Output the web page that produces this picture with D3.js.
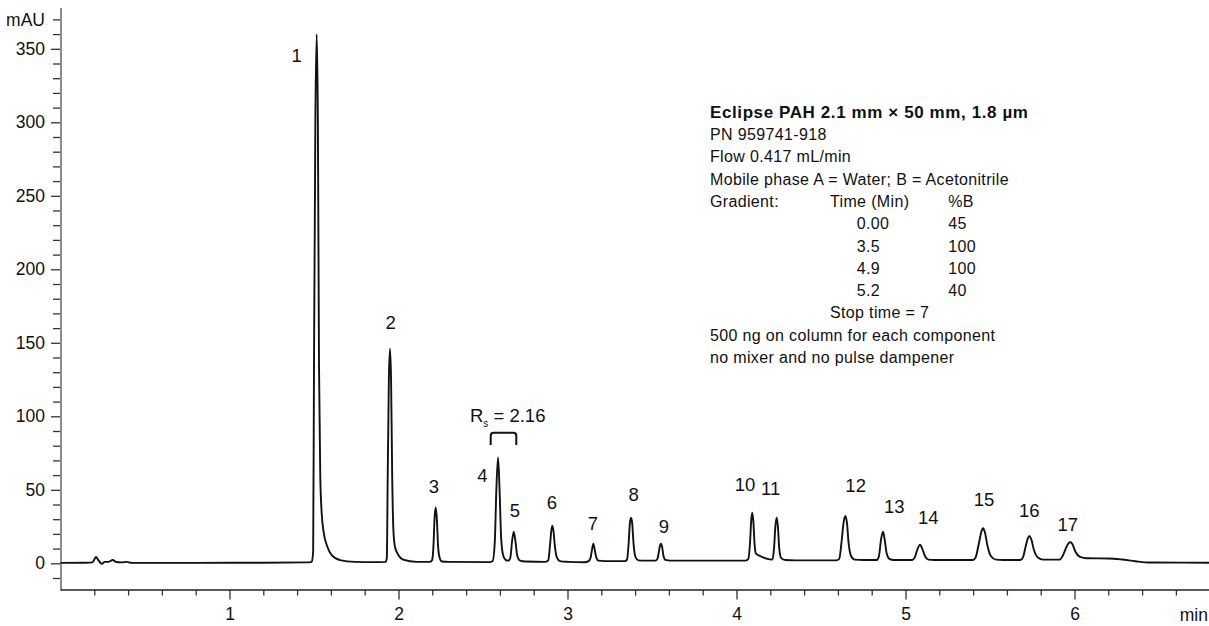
<!DOCTYPE html>
<meta charset="utf-8">
<script src="https://d3js.org/d3.v7.min.js"></script>
<style>
  body { margin: 0; background: #fff; }
  text { font-family: "Liberation Sans Narrow", "Arial Narrow", "Liberation Sans", sans-serif; fill: #111; }
</style>
<div id="chart"></div>
<script>
// Chromatogram trace: [time (min), signal (mAU)]
var trace = [
  [0.00, 0.3], [0.15, 0.4], [0.19, 0.6], [0.21, 4.3], [0.225, 2.0], [0.244, -0.4], [0.262, 1.0],
  [0.283, 1.0], [0.309, 2.2], [0.33, 0.9], [0.36, 0.6], [0.392, 1.0], [0.42, 0.3], [0.8, 0.3],
  [1.2, 0.4], [1.45, 0.6],
  // peak 1
  [1.487, 1], [1.495, 8], [1.500, 135], [1.508, 300], [1.516, 360], [1.523, 300], [1.5296, 135],
  [1.537, 60], [1.5456, 34], [1.555, 22.7], [1.579, 11.3], [1.605, 5.6], [1.654, 2.2], [1.743, 1.0], [1.85, 0.8],
  // peak 2
  [1.925, 1.0], [1.931, 4], [1.936, 57], [1.943, 125], [1.9497, 146], [1.956, 125], [1.963, 57],
  [1.970, 22], [1.979, 11.3], [1.999, 5.6], [2.027, 2.5], [2.108, 1.0],
  // peak 3
  [2.185, 1.0], [2.198, 2], [2.207, 12], [2.213, 30], [2.220, 38], [2.227, 30], [2.234, 12],
  [2.243, 4], [2.257, 1.2], [2.30, 1.0], [2.54, 0.8],
  // peaks 4 and 5
  [2.557, 1.5], [2.570, 15], [2.579, 50], [2.589, 72], [2.598, 50], [2.607, 18], [2.618, 6],
  [2.632, 2.5], [2.650, 1.8], [2.662, 4], [2.672, 15], [2.682, 21.5], [2.692, 15], [2.703, 5],
  [2.72, 1.8], [2.75, 1.2],
  // peak 6
  [2.87, 1.0], [2.886, 2], [2.897, 13], [2.904, 22], [2.910, 25.6], [2.917, 22], [2.925, 12],
  [2.937, 4], [2.955, 1.5], [3.0, 1.0],
  // peak 7
  [3.10, 0.7], [3.125, 1.5], [3.137, 4], [3.146, 10], [3.153, 13.3], [3.160, 10], [3.170, 4],
  [3.183, 1.8], [3.22, 1.5],
  // peak 8
  [3.34, 1.5], [3.352, 2.5], [3.362, 14], [3.369, 27], [3.376, 31], [3.383, 27], [3.391, 13],
  [3.403, 4], [3.42, 2], [3.46, 1.8],
  // peak 9
  [3.52, 1.8], [3.532, 3], [3.541, 8], [3.547, 12], [3.553, 13.3], [3.560, 11], [3.568, 5],
  [3.58, 2.3], [3.61, 1.8], [3.8, 1.8],
  // peaks 10 and 11
  [4.055, 1.8], [4.070, 3], [4.080, 14], [4.087, 29], [4.0935, 34.4], [4.100, 28], [4.107, 13],
  [4.115, 6.5], [4.138, 5], [4.197, 2.7], [4.212, 2.5], [4.222, 10], [4.230, 25], [4.238, 31],
  [4.245, 25], [4.253, 10], [4.265, 3.5], [4.29, 2.2], [4.35, 2.0],
  // peak 12
  [4.59, 2.0], [4.608, 3], [4.622, 15], [4.634, 28], [4.644, 32.2], [4.653, 28], [4.664, 13],
  [4.678, 5], [4.70, 2.5], [4.75, 2.2],
  // peak 13
  [4.83, 2.2], [4.843, 5], [4.855, 16], [4.867, 21.5], [4.877, 16], [4.888, 7], [4.905, 3], [4.93, 2.2],
  // peak 14
  [5.04, 2.2], [5.055, 4], [5.072, 10], [5.086, 12.7], [5.099, 10], [5.115, 5], [5.135, 2.5], [5.17, 2.2],
  // peak 15
  [5.40, 2.2], [5.415, 4], [5.435, 14], [5.449, 21.5], [5.459, 23.8], [5.470, 21], [5.485, 12],
  [5.505, 5], [5.535, 2.5], [5.58, 2.2],
  // peak 16
  [5.68, 2.2], [5.695, 4], [5.712, 12], [5.724, 17], [5.733, 18.6], [5.744, 16.5], [5.760, 9],
  [5.783, 4], [5.815, 2.5], [5.85, 2.5],
  // peak 17 and tail
  [5.91, 2.5], [5.93, 5], [5.950, 10.5], [5.965, 13.7], [5.975, 14.3], [5.988, 13], [6.005, 8],
  [6.03, 4.5], [6.06, 3.6], [6.08, 3.4], [6.20, 3.3], [6.28, 2.6], [6.36, 1.4], [6.447, 0.5], [6.8, 0.4]
];

// peak numbers and where their labels sit [time, mAU]
var peakNames = ["1","2","3","4","5","6","7","8","9","10","11","12","13","14","15","16","17"];
var peakLabelAt = [
  [1.398, 345.8], [1.954, 163.7], [2.210, 52.1], [2.496, 60.1], [2.689, 36.3], [2.908, 41.2],
  [3.151, 27.4], [3.391, 47.1], [3.571, 24.9], [4.050, 53.9], [4.202, 51.2], [4.705, 52.8],
  [4.934, 39.0], [5.135, 31.3], [5.464, 43.5], [5.733, 36.3], [5.960, 26.7]
];

// resolution between peaks 4 and 5
var rsSpan = [2.5456, 2.697];
var rsLevels = [80.5, 88.8];
var rsValue = "2.16";

var yMajor = [0, 50, 100, 150, 200, 250, 300, 350];
var yMinor = [-10, 10, 20, 30, 40, 60, 70, 80, 90, 110, 120, 130, 140, 160, 170, 180, 190,
  210, 220, 230, 240, 260, 270, 280, 290, 310, 320, 330, 340, 360, 370];
var xMajor = [1, 2, 3, 4, 5, 6];
var xMinor = [0.2, 0.4, 0.6, 0.8, 1.2, 1.4, 1.6, 1.8, 2.2, 2.4, 2.6, 2.8, 3.2, 3.4, 3.6, 3.8,
  4.2, 4.4, 4.6, 4.8, 5.2, 5.4, 5.6, 5.8, 6.2, 6.4, 6.6, 6.8];
var xLimits = [0, 6.8];
var yLimits = [-18.2, 377.8];

var legendTitle = "Eclipse PAH 2.1 mm \u00d7 50 mm, 1.8 \u00b5m";
var legendTop = ["PN 959741-918", "Flow 0.417 mL/min", "Mobile phase A = Water; B = Acetonitrile"];
var gradientHead = ["Gradient:", "Time (Min)", "%B"];
var gradientTime = ["0.00", "3.5", "4.9", "5.2"];
var gradientB = ["45", "100", "100", "40"];
var stopLine = "Stop time = 7";
var legendBottom = ["500 ng on column for each component", "no mixer and no pulse dampener"];

var W = 1209, H = 626;
var svg = d3.select("#chart").append("svg")
  .attr("width", W).attr("height", H);

var x = d3.scaleLinear().domain([0, 6.8]).range([60.5, 1209.7]);
var y = d3.scaleLinear().domain([0, 350]).range([563.3, 48.8]);
var x0 = x(xLimits[0]), yb = y(yLimits[0]);

// Y axis
var gyMinor = svg.append("g")
  .attr("transform", "translate(" + 61 + ",0)")
  .call(d3.axisLeft(y).tickValues(yMinor).tickSize(8).tickFormat(""));
var gy = svg.append("g")
  .attr("transform", "translate(" + 61 + ",0)")
  .call(d3.axisLeft(y).tickValues(yMajor).tickSize(10).tickPadding(6).tickFormat(d3.format("d")));
[gy, gyMinor].forEach(function(g) {
  g.select(".domain").remove();
  g.selectAll("line").attr("stroke", "#333").attr("stroke-width", 1.3);
});
gy.selectAll("text")
  .style("font-size", "17.5px").attr("fill", "#111");
svg.append("line")
  .attr("x1", 61).attr("x2", 61)
  .attr("y1", y(yLimits[1])).attr("y2", yb)
  .attr("stroke", "#8c8c8c").attr("stroke-width", 2);
svg.append("text")
  .attr("x", 45).attr("y", y(370)).attr("dy", "0.36em")
  .attr("text-anchor", "end")
  .style("font-size", "17.5px")
  .text("mAU");

// X axis
var gxMinor = svg.append("g")
  .attr("transform", "translate(0," + yb + ")")
  .call(d3.axisBottom(x).tickValues(xMinor).tickSize(5.5).tickFormat(""));
var gx = svg.append("g")
  .attr("transform", "translate(0," + yb + ")")
  .call(d3.axisBottom(x).tickValues(xMajor).tickSize(9.5).tickPadding(8.5).tickFormat(d3.format("d")));
[gx, gxMinor].forEach(function(g) {
  g.select(".domain").remove();
  g.selectAll("line").attr("stroke", "#333").attr("stroke-width", 1.3);
});
gx.selectAll("text")
  .style("font-size", "17.5px").attr("fill", "#111");
svg.append("line")
  .attr("x1", x0).attr("x2", W)
  .attr("y1", yb).attr("y2", yb)
  .attr("stroke", "#222").attr("stroke-width", 1.4);
svg.append("text")
  .attr("x", 1208).attr("y", yb + 31)
  .attr("text-anchor", "end")
  .style("font-size", "17.5px")
  .text("min");

// Trace
svg.append("path")
  .datum(trace)
  .attr("fill", "none")
  .attr("stroke", "#111")
  .attr("stroke-width", 1.9)
  .attr("stroke-linejoin", "round")
  .attr("d", d3.line()
    .x(function(d) { return x(d[0]); })
    .y(function(d) { return y(d[1]); })
    .curve(d3.curveMonotoneX));

// Peak labels
svg.selectAll(".plabel")
  .data(peakNames)
  .join("text")
  .attr("class", "plabel")
  .attr("x", function(d, i) { return x(peakLabelAt[i][0]); })
  .attr("y", function(d, i) { return y(peakLabelAt[i][1]); })
  .attr("dy", "0.36em")
  .attr("text-anchor", "middle")
  .style("font-size", "18.5px")
  .text(function(d) { return d; });

// Rs bracket and label
var bx1 = x(rsSpan[0]), bx2 = x(rsSpan[1]);
var byTop = y(rsLevels[1]), byBot = y(rsLevels[0]);
svg.append("path")
  .attr("fill", "none").attr("stroke", "#111").attr("stroke-width", 2)
  .attr("d", "M" + bx1 + "," + byBot + "V" + (byTop + 3) +
    "Q" + bx1 + "," + byTop + " " + (bx1 + 3) + "," + byTop +
    "H" + (bx2 - 3) + "Q" + bx2 + "," + byTop + " " + bx2 + "," + (byTop + 3) +
    "V" + byBot);
var rs = svg.append("text")
  .attr("x", x(2.423)).attr("y", y(96.1))
  .style("font-size", "18.5px");
rs.append("tspan").text("R");
rs.append("tspan").attr("dy", 5).style("font-size", "10px").text("s");
rs.append("tspan").attr("dy", -5).text(" = " + rsValue);

// Legend block
var lx = 710, lh = 22.3, ly = 117.7;
svg.append("text")
  .attr("x", lx).attr("y", ly)
  .style("font-family", "'Liberation Sans', Arial, sans-serif")
  .style("font-weight", "bold").style("font-size", "17px").style("letter-spacing", "0.6px")
  .text(legendTitle);

var legend = svg.append("g")
  .style("font-size", "16px").style("letter-spacing", "0.35px");
function line(txt, xx, row) {
  legend.append("text").attr("x", xx).attr("y", ly + lh * row).text(txt);
}
legendTop.forEach(function(t, i) { line(t, lx, i + 1); });
line(gradientHead[0], lx, 4);
line(gradientHead[1], 830, 4);
line(gradientHead[2], 948.3, 4);
gradientTime.forEach(function(t, i) {
  line(t, 856.7, 5 + i);
  line(gradientB[i], 948.3, 5 + i);
});
line(stopLine, 830, 9);
legendBottom.forEach(function(t, i) { line(t, lx, 10 + i); });
</script>
